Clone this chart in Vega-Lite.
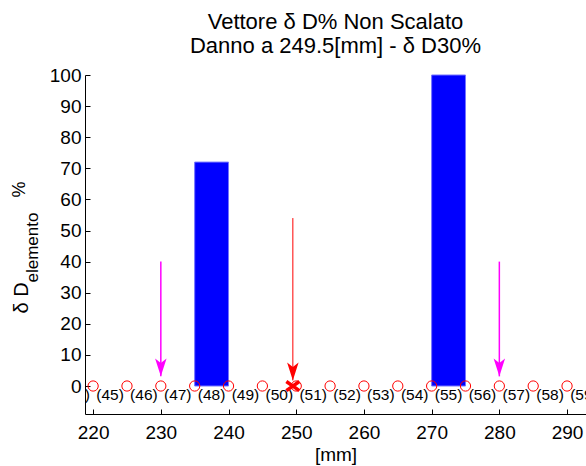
{
  "$schema": "https://vega.github.io/schema/vega-lite/v6.json",
  "autosize": "none",
  "padding": {"left": 85, "top": 75, "right": 0, "bottom": 52},
  "width": 501,
  "height": 339,
  "background": "white",
  "title": {
    "text": ["Vettore δ D% Non Scalato", "Danno a 249.5[mm] - δ D30%"],
    "font": "Liberation Sans",
    "fontSize": 22,
    "fontWeight": "normal",
    "color": "black",
    "lineHeight": 24,
    "anchor": "middle",
    "offset": 8
  },
  "config": {
    "view": {"stroke": null},
    "font": "Liberation Sans",
    "axis": {"grid": false, "domainColor": "black", "tickColor": "black", "labelColor": "black", "titleColor": "black", "labelFont": "Liberation Sans", "titleFont": "Liberation Sans", "titleFontWeight": "normal"}
  },
  "datasets": {
    "bars": [{"x": 235, "x2": 240, "v": 72}, {"x": 270, "x2": 275, "v": 100}],
    "nodes": [
      {"x": 220, "y": 0}, {"x": 225, "y": 0}, {"x": 230, "y": 0}, {"x": 235, "y": 0}, {"x": 240, "y": 0},
      {"x": 245, "y": 0}, {"x": 250, "y": 0}, {"x": 255, "y": 0}, {"x": 260, "y": 0}, {"x": 265, "y": 0},
      {"x": 270, "y": 0}, {"x": 275, "y": 0}, {"x": 280, "y": 0}, {"x": 285, "y": 0}, {"x": 290, "y": 0}
    ],
    "elements": [
      {"x": 217.5, "y": -3, "t": "(44)"}, {"x": 222.5, "y": -3, "t": "(45)"}, {"x": 227.5, "y": -3, "t": "(46)"},
      {"x": 232.5, "y": -3, "t": "(47)"}, {"x": 237.5, "y": -3, "t": "(48)"}, {"x": 242.5, "y": -3, "t": "(49)"},
      {"x": 247.5, "y": -3, "t": "(50)"}, {"x": 252.5, "y": -3, "t": "(51)"}, {"x": 257.5, "y": -3, "t": "(52)"},
      {"x": 262.5, "y": -3, "t": "(53)"}, {"x": 267.5, "y": -3, "t": "(54)"}, {"x": 272.5, "y": -3, "t": "(55)"},
      {"x": 277.5, "y": -3, "t": "(56)"}, {"x": 282.5, "y": -3, "t": "(57)"}, {"x": 287.5, "y": -3, "t": "(58)"},
      {"x": 292.5, "y": -3, "t": "(59)"}
    ],
    "arrows": [
      {"x": 230, "top": 40, "tip": 3.1, "c": "m"},
      {"x": 280, "top": 40, "tip": 3.1, "c": "m"},
      {"x": 249.5, "top": 54, "tip": 1.8, "c": "r"}
    ],
    "damage": [{"x": 249.5, "y": 0}]
  },
  "layer": [
    {
      "data": {"name": "bars"},
      "mark": {"type": "rect", "fill": "#0000FF", "stroke": "#7575ff", "strokeWidth": 1},
      "encoding": {
        "x": {"field": "x", "type": "quantitative", "scale": {"domain": [218.8, 292.8], "nice": false, "zero": false},
          "axis": {"values": [220, 230, 240, 250, 260, 270, 280, 290], "format": "d", "tickSize": -5, "labelPadding": 14, "labelFontSize": 19, "title": "[mm]", "titleFontSize": 19, "titleY": 46, "titleBaseline": "alphabetic"}},
        "x2": {"field": "x2"},
        "y": {"field": "v", "type": "quantitative", "scale": {"domain": [-9, 100], "nice": false, "zero": false},
          "axis": {"orient": "left", "values": [0, 10, 20, 30, 40, 50, 60, 70, 80, 90, 100], "tickSize": -5, "labelPadding": 9, "labelFontSize": 19, "title": "δ D", "titleFontSize": 20, "titleAngle": -90, "titleX": -58, "titleY": 238, "titleAlign": "left", "titleBaseline": "alphabetic"}},
        "y2": {"datum": 0}
      }
    },
    {
      "mark": {"type": "rule", "color": "#FF00FF", "strokeWidth": 2},
      "encoding": {
        "y": {"datum": 0, "type": "quantitative", "scale": {"domain": [-9, 100], "nice": false, "zero": false}, "axis": null}
      }
    },
    {
      "data": {"name": "nodes"},
      "mark": {"type": "point", "shape": "circle", "filled": false, "stroke": "#FF0000", "strokeWidth": 1, "size": 105, "opacity": 1},
      "encoding": {
        "x": {"field": "x", "type": "quantitative", "scale": {"domain": [218.8, 292.8], "nice": false, "zero": false}},
        "y": {"field": "y", "type": "quantitative", "scale": {"domain": [-9, 100], "nice": false, "zero": false},
          "axis": {"orient": "left", "labels": false, "ticks": false, "domain": false, "title": "elemento", "titleFontSize": 17, "titleAngle": -90, "titleX": -48, "titleY": 207, "titleAlign": "left", "titleBaseline": "alphabetic"}}
      }
    },
    {
      "data": {"name": "elements"},
      "mark": {"type": "text", "fontSize": 15.5, "color": "black", "baseline": "middle", "align": "center", "clip": true},
      "encoding": {
        "x": {"field": "x", "type": "quantitative", "scale": {"domain": [218.8, 292.8], "nice": false, "zero": false}},
        "y": {"field": "y", "type": "quantitative", "scale": {"domain": [-9, 100], "nice": false, "zero": false},
          "axis": {"orient": "left", "labels": false, "ticks": false, "domain": false, "title": "%", "titleFontSize": 18, "titleAngle": -90, "titleX": -61, "titleY": 122, "titleAlign": "left", "titleBaseline": "alphabetic"}},
        "text": {"field": "t"}
      }
    },
    {
      "data": {"name": "arrows"},
      "mark": {"type": "rule"},
      "encoding": {
        "x": {"field": "x", "type": "quantitative", "scale": {"domain": [218.8, 292.8], "nice": false, "zero": false}},
        "y": {"field": "top", "type": "quantitative", "scale": {"domain": [-9, 100], "nice": false, "zero": false}, "axis": null},
        "y2": {"field": "tip"},
        "color": {"field": "c", "type": "nominal", "scale": {"domain": ["m", "r"], "range": ["#FF00FF", "#FF0000"]}, "legend": null},
        "strokeWidth": {"field": "c", "type": "ordinal", "scale": {"domain": ["m", "r"], "range": [1.5, 1]}, "legend": null}
      }
    },
    {
      "data": {"name": "arrows"},
      "mark": {"type": "point", "shape": "M0,0L-0.45,-1.4L0,-1.05L0.45,-1.4Z", "filled": true, "size": 650, "opacity": 1},
      "encoding": {
        "x": {"field": "x", "type": "quantitative", "scale": {"domain": [218.8, 292.8], "nice": false, "zero": false}},
        "y": {"field": "tip", "type": "quantitative", "scale": {"domain": [-9, 100], "nice": false, "zero": false}, "axis": null},
        "color": {"field": "c", "type": "nominal", "scale": {"domain": ["m", "r"], "range": ["#FF00FF", "#FF0000"]}, "legend": null}
      }
    },
    {
      "data": {"name": "damage"},
      "mark": {"type": "point", "shape": "M-1,-0.7L1,0.7M-1,0.7L1,-0.7", "filled": false, "stroke": "#FF0000", "strokeWidth": 3.5, "size": 169, "opacity": 1},
      "encoding": {
        "x": {"field": "x", "type": "quantitative", "scale": {"domain": [218.8, 292.8], "nice": false, "zero": false}},
        "y": {"field": "y", "type": "quantitative", "scale": {"domain": [-9, 100], "nice": false, "zero": false}, "axis": null}
      }
    }
  ],
  "resolve": {"axis": {"y": "independent"}}
}
